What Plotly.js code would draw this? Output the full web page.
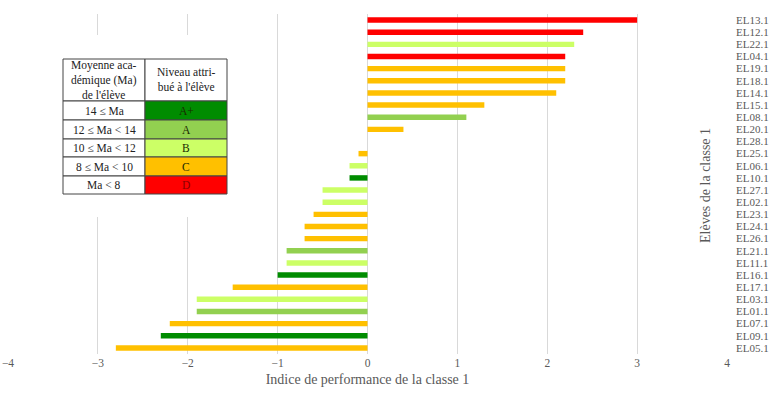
<!DOCTYPE html>
<html><head><meta charset="utf-8">
<script src="https://cdn.plot.ly/plotly-3.0.1.min.js"></script>
<style>html,body{margin:0;padding:0;background:#fff}#c{width:776px;height:397px}</style>
</head><body><div id="c"></div>
<script>
const students = ['EL13.1','EL12.1','EL22.1','EL04.1','EL19.1','EL18.1','EL14.1','EL15.1','EL08.1','EL20.1','EL28.1','EL25.1','EL06.1','EL10.1','EL27.1','EL02.1','EL23.1','EL24.1','EL26.1','EL21.1','EL11.1','EL16.1','EL17.1','EL03.1','EL01.1','EL07.1','EL09.1','EL05.1'];
const perfIndex = [3.0,2.4,2.3,2.2,2.2,2.2,2.1,1.3,1.1,0.4,0,-0.1,-0.2,-0.2,-0.5,-0.5,-0.6,-0.7,-0.7,-0.9,-0.9,-1.0,-1.5,-1.9,-1.9,-2.2,-2.3,-2.8];
const studentLevel = ['D','D','B','D','C','C','C','C','A','C','C','C','B','A+','B','B','C','C','C','A','B','A+','C','B','A','C','A+','C'];
const levels = ['A+','A','B','C','D'];
const levelRanges = ['14 ≤ Ma','12 ≤ Ma < 14','10 ≤ Ma < 12','8 ≤ Ma < 10','Ma < 8'];
const levelColors = ['#008C00','#92D050','#CCFF66','#FFC000','#FF0000'];
const headerLeft = 'Moyenne aca-<br>démique (Ma)<br>de l\'élève';
const headerRight = 'Niveau attri-<br>bué à l\'élève';

const colorOf = l => levelColors[levels.indexOf(l)];

// plot geometry (pixels)
const W=776,H=397,L=8,R=49,T=14,B=43;
const pw=W-L-R, ph=H-T-B;
const px = x => (x-L)/pw;
const py = y => (H-B-y)/ph;

const shapes=[], annotations=[];
// white mask behind table
shapes.push({type:'rect',xref:'paper',yref:'paper',x0:px(12),x1:px(262),y0:py(217),y1:py(35),fillcolor:'#fff',line:{width:0},layer:'above'});
const tx0=63, tmid=145, tx1=227;
const rowY=[59,101,120,139,157,176,194];
const serif='Liberation Serif, Times New Roman, serif';
const cellFont={family:serif,size:11.5,color:'#222'};
function cell(x0,x1,y0,y1,fill){
  shapes.push({type:'rect',xref:'paper',yref:'paper',x0:px(x0),x1:px(x1),y0:py(y1),y1:py(y0),fillcolor:fill,line:{color:'#444',width:1},layer:'above'});
}
function label(x,y,text,font){
  annotations.push({xref:'paper',yref:'paper',x:px(x),y:py(y),xanchor:'center',yanchor:'middle',text:text,showarrow:false,font:font,align:'center'});
}
cell(tx0,tmid,rowY[0],rowY[1],'#fff');
cell(tmid,tx1,rowY[0],rowY[1],'#fff');
label((tx0+tmid)/2,(rowY[0]+rowY[1])/2,headerLeft,cellFont);
label((tmid+tx1)/2,(rowY[0]+rowY[1])/2,headerRight,cellFont);
levels.forEach((lv,i)=>{
  const y0=rowY[i+1], y1=rowY[i+2];
  cell(tx0,tmid,y0,y1,'#fff');
  cell(tmid,tx1,y0,y1,levelColors[i]);
  label((tx0+tmid)/2,(y0+y1)/2,levelRanges[i],cellFont);
  label((tmid+tx1)/2,(y0+y1)/2,lv,Object.assign({},cellFont,{color: lv==='D'?'#8a0000':'#1a2a00'}));
});
// y axis title
annotations.push({xref:'paper',yref:'paper',x:px(705),y:py(186),xanchor:'center',yanchor:'middle',text:'Elèves de la classe 1',textangle:-90,showarrow:false,font:{family:serif,size:14,color:'#595959'}});

const trace={type:'bar',orientation:'h',y:students,x:perfIndex,marker:{color:studentLevel.map(colorOf)},width:0.45,hoverinfo:'x+y'};
const layout={
  width:W,height:H,margin:{l:L,r:R,t:T,b:B},paper_bgcolor:'#fff',plot_bgcolor:'#fff',showlegend:false,
  font:{family:serif,color:'#595959'},
  xaxis:{range:[-4,4],dtick:1,tick0:0,showgrid:true,gridcolor:'#d9d9d9',gridwidth:1,zeroline:false,showline:false,
    tickfont:{size:11.5,color:'#595959'},ticks:'',
    title:{text:'Indice de performance de la classe 1',font:{size:14,color:'#595959'},standoff:6}},
  yaxis:{type:'category',autorange:'reversed',side:'right',showgrid:false,zeroline:false,showline:false,ticks:'',
    tickmode:'array',tickvals:students,ticktext:students,
    ticklabelstandoff:8,tickfont:{size:11,color:'#595959'}},
  shapes:shapes,annotations:annotations
};
Plotly.newPlot('c',[trace],layout,{displayModeBar:false,staticPlot:true});
</script></body></html>
